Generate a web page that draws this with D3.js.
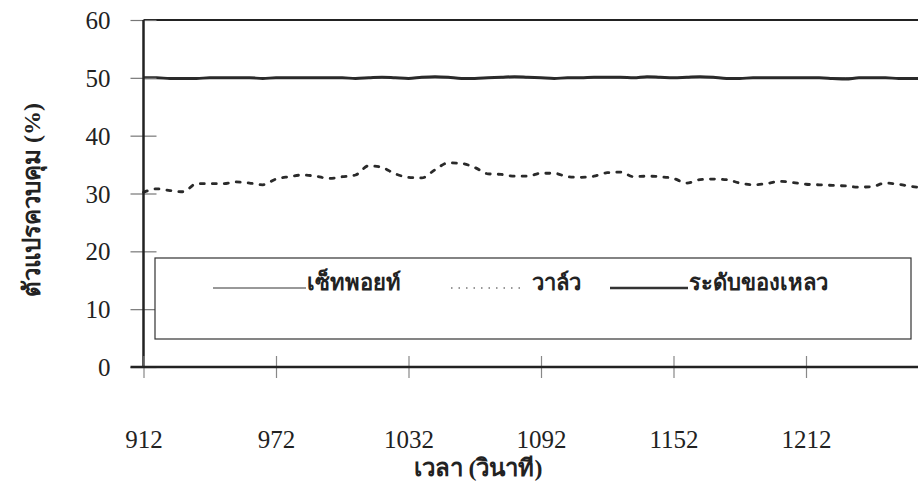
<!DOCTYPE html>
<html>
<head>
<meta charset="utf-8">
<script src="https://cdn.jsdelivr.net/npm/d3@7/dist/d3.min.js"></script>
<style>
  body { margin: 0; background: #fff; }
  svg { display: block; }
  text { font-family: "Liberation Serif", "Times New Roman", serif; fill: #222; }
</style>
</head>
<body>
<svg id="chart" width="918" height="487"></svg>
<script>
(function() {

    // time axis (seconds), sampled every 6 s
    var startTime = 912, step = 6;
    var xTicks = [912, 972, 1032, 1092, 1152, 1212];
    var yTicks = [0, 10, 20, 30, 40, 50, 60];

    // valve opening (%)
    var valve = [30.2, 30.8, 30.5, 30.3, 31.7, 31.7, 31.7, 32.0, 31.8, 31.5,
                 32.5, 32.9, 33.2, 33.0, 32.6, 32.9, 33.2, 34.8, 34.5, 33.4,
                 32.8, 32.7, 34.1, 35.3, 35.2, 34.5, 33.4, 33.3, 33.0, 33.0,
                 33.5, 33.5, 32.9, 32.8, 33.0, 33.6, 33.7, 32.9, 33.0, 32.9,
                 32.6, 31.8, 32.4, 32.5, 32.4, 31.8, 31.5, 31.7, 32.1, 31.9,
                 31.6, 31.5, 31.4, 31.3, 31.1, 31.2, 31.8, 31.6, 31.2, 31.0];

    // liquid level (%)
    var level = [50.0, 50.0, 49.9, 49.9, 49.9, 50.0, 50.0, 50.0, 50.0, 49.9,
                 50.0, 50.0, 50.0, 50.0, 50.0, 50.0, 49.9, 50.0, 50.1, 50.0,
                 49.9, 50.1, 50.2, 50.1, 49.9, 49.9, 50.0, 50.1, 50.2, 50.1,
                 50.0, 49.9, 50.0, 50.0, 50.1, 50.1, 50.1, 50.0, 50.2, 50.1,
                 50.0, 50.1, 50.2, 50.1, 49.9, 49.9, 50.0, 50.0, 50.0, 50.0,
                 50.0, 50.0, 49.9, 49.8, 50.0, 50.0, 50.0, 49.9, 49.9, 49.9];

    // set point (%)
    var setpoint = valve.map(function() { return 50; });

    var legendNames = ["เซ็ทพอยท์", "วาล์ว", "ระดับของเหลว"];

    var svg = d3.select("#chart");

    var x = d3.scaleLinear().domain([912, 1272]).range([143.5, 938.5]);
    var y = d3.scaleLinear().domain([0, 60]).range([367, 20]);

    var t = function(i) { return startTime + i * step; };

    // frame: top border
    svg.append("line")
        .attr("x1", x(912)).attr("x2", x(1272))
        .attr("y1", y(60)).attr("y2", y(60))
        .attr("stroke", "#222").attr("stroke-width", 2);

    // lines
    var line = d3.line()
        .x(function(d, i) { return x(t(i)); })
        .y(function(d) { return y(d); })
        .curve(d3.curveMonotoneX);

    svg.append("path").datum(setpoint)
        .attr("d", line)
        .attr("fill", "none").attr("stroke", "#222").attr("stroke-width", 1);

    svg.append("path").datum(level)
        .attr("d", line)
        .attr("fill", "none").attr("stroke", "#2a2a2a").attr("stroke-width", 3);

    svg.append("path").datum(valve)
        .attr("d", line)
        .attr("fill", "none").attr("stroke", "#2a2a2a").attr("stroke-width", 2.8)
        .attr("stroke-dasharray", "4,8").attr("stroke-linecap", "round");

    // y axis
    var yAxis = svg.append("g")
        .attr("transform", "translate(" + x(912) + ",0)")
        .call(d3.axisLeft(y).tickValues(yTicks).tickSize(0).tickPadding(0).tickFormat(d3.format("d")));
    yAxis.select(".domain").remove();
    yAxis.selectAll(".tick line").remove();
    yAxis.selectAll(".tick").append("line")
        .attr("x1", -13).attr("x2", 13)
        .attr("stroke", "#777").attr("stroke-width", 1.2);
    yAxis.selectAll(".tick text")
        .attr("x", -33).attr("dy", "0.34em")
        .style("font-size", "25px").style("text-anchor", "end");
    yAxis.append("line")
        .attr("y1", y(60)).attr("y2", y(0))
        .attr("stroke", "#222").attr("stroke-width", 2.5);

    // x axis
    var xAxis = svg.append("g")
        .attr("transform", "translate(0," + y(0) + ")")
        .call(d3.axisBottom(x).tickValues(xTicks).tickSize(0).tickPadding(0).tickFormat(d3.format("d")));
    xAxis.select(".domain").remove();
    xAxis.selectAll(".tick line").remove();
    xAxis.selectAll(".tick").append("line")
        .attr("y1", -11).attr("y2", 11)
        .attr("stroke", "#888").attr("stroke-width", 1.2);
    xAxis.selectAll(".tick text")
        .attr("y", 81).attr("dy", 0)
        .style("font-size", "25px");
    xAxis.append("line")
        .attr("x1", x(912) - 13).attr("x2", x(1272))
        .attr("stroke", "#222").attr("stroke-width", 2.5);

    // axis titles
    svg.append("text")
        .attr("x", 478).attr("y", 476)
        .attr("text-anchor", "middle")
        .style("font-size", "24px").style("font-weight", "bold")
        .text("เวลา (วินาที)");

    svg.append("text")
        .attr("transform", "translate(40,200) rotate(-90)")
        .attr("text-anchor", "middle")
        .style("font-size", "24px").style("font-weight", "bold")
        .text("ตัวแปรควบคุม (%)");

    // legend
    var legend = svg.append("g");
    legend.append("rect")
        .attr("x", 155).attr("y", 258).attr("width", 756).attr("height", 81)
        .attr("fill", "#fff").attr("stroke", "#333").attr("stroke-width", 1.2);

    var legendItems = [
        {x1: 213, x2: 306, tx: 307, w: 1, dash: null},
        {x1: 451, x2: 525, tx: 532, w: 1.2, dash: "1.5,6"},
        {x1: 610, x2: 688, tx: 689, w: 2.5, dash: null}
    ];
    legendItems.forEach(function(d, i) {
        var ln = legend.append("line")
            .attr("x1", d.x1).attr("x2", d.x2)
            .attr("y1", 288).attr("y2", 288)
            .attr("stroke", "#333").attr("stroke-width", d.w);
        if (d.dash) ln.attr("stroke-dasharray", d.dash);
        legend.append("text")
            .attr("x", d.tx).attr("y", 290)
            .style("font-size", "22px").style("font-weight", "bold")
            .text(legendNames[i]);
    });

})();
</script>
</body>
</html>
